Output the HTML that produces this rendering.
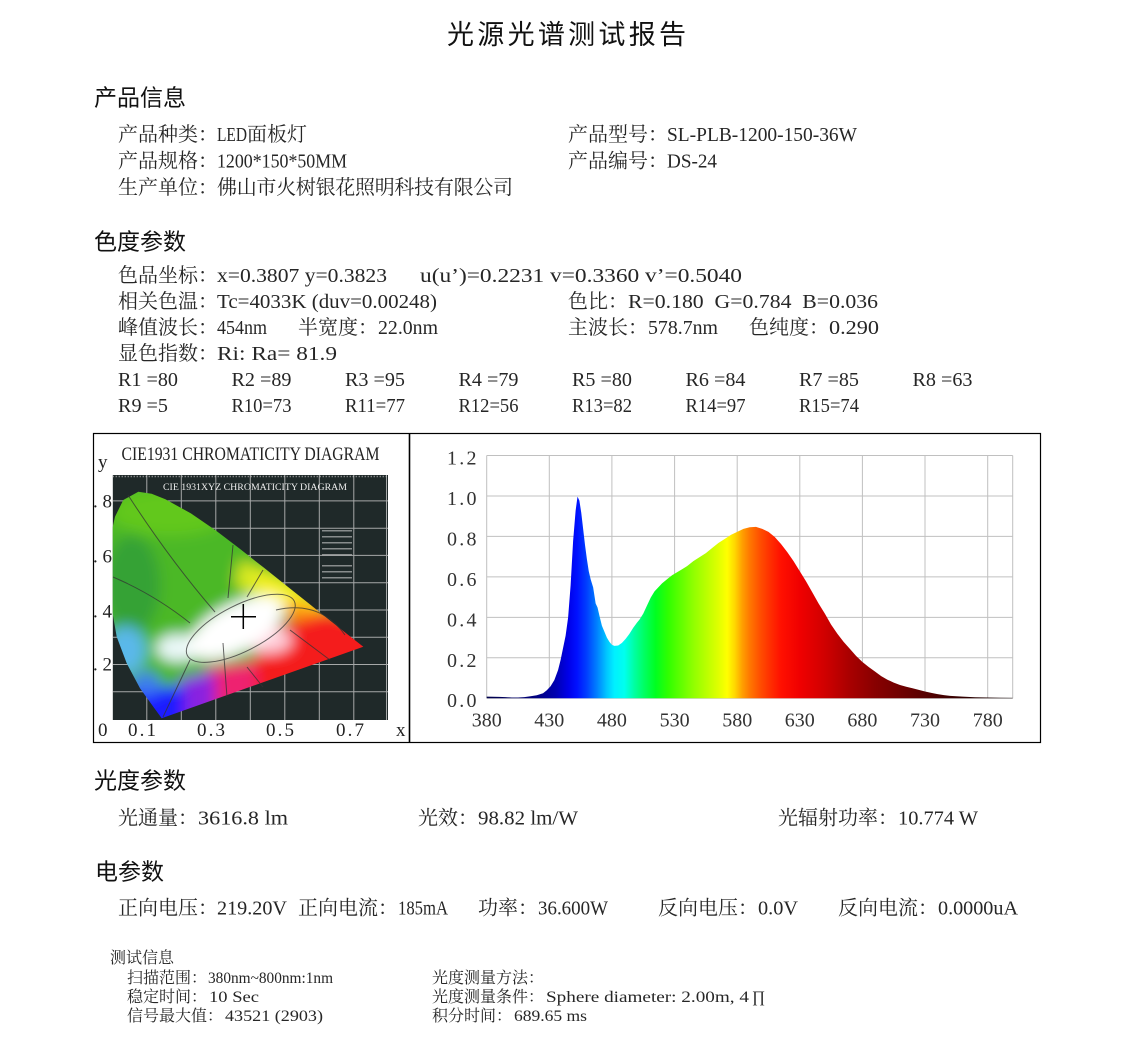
<!DOCTYPE html>
<html><head><meta charset="utf-8">
<style>
html,body{margin:0;padding:0;background:#fff;}
svg{display:block}
.h{font-family:"Liberation Sans","Noto Sans CJK SC",sans-serif;fill:#111}
.c{font-family:"Liberation Serif","Noto Serif CJK SC",serif;font-size:20px;fill:#262626}
.l{font-family:"Liberation Serif","Noto Serif CJK SC",serif;font-size:20px;fill:#262626;white-space:pre}
.cs{font-family:"Liberation Serif","Noto Serif CJK SC",serif;font-size:16px;fill:#262626}
.ls{font-family:"Liberation Serif","Noto Serif CJK SC",serif;font-size:16px;fill:#262626;white-space:pre}
.ax{font-family:"Liberation Serif",serif;font-size:20px;fill:#333;white-space:pre}
.ax2{font-family:"Liberation Serif",serif;font-size:19px;fill:#222;white-space:pre}
</style></head><body>
<svg width="1138" height="1047" viewBox="0 0 1138 1047" xmlns="http://www.w3.org/2000/svg">
<defs>
<clipPath id="pic"><rect x="112.7" y="475" width="275.3" height="245"/></clipPath>
<clipPath id="hs"><path d="M161.7,718.3 L153.3,706.7 L140,688.3 L126.7,663.3 L116.7,636.7 L112,610 L111,560 L112,530 L115,516.7 L123.3,500 L138.3,491.7 L151.6,493.8 L165.4,499.3 L190.9,513.4 L215.5,530.3 L239.8,548.8 L264,567.8 L287.3,586.4 L308.7,603.4 L326.3,617.5 L348.3,635 L363.3,646.7 Z"/></clipPath>
<filter id="bl" filterUnits="userSpaceOnUse" x="60" y="440" width="380" height="320"><feGaussianBlur stdDeviation="7"/></filter>
<linearGradient id="sp" gradientUnits="userSpaceOnUse" x1="380" y1="0" x2="800" y2="0">
<stop offset="0" stop-color="#00004a"/>
<stop offset="0.0952" stop-color="#000080"/>
<stop offset="0.131" stop-color="#0000b0"/>
<stop offset="0.1548" stop-color="#0000e8"/>
<stop offset="0.1714" stop-color="#0010ff"/>
<stop offset="0.1905" stop-color="#0040ff"/>
<stop offset="0.2095" stop-color="#0080ff"/>
<stop offset="0.2286" stop-color="#00c8ff"/>
<stop offset="0.2429" stop-color="#00f0ff"/>
<stop offset="0.2619" stop-color="#00ffee"/>
<stop offset="0.281" stop-color="#00ffa0"/>
<stop offset="0.3" stop-color="#00ff60"/>
<stop offset="0.3214" stop-color="#00ff20"/>
<stop offset="0.3452" stop-color="#30ff00"/>
<stop offset="0.369" stop-color="#60ff00"/>
<stop offset="0.3929" stop-color="#90ff00"/>
<stop offset="0.4167" stop-color="#b8ff00"/>
<stop offset="0.4405" stop-color="#e0ff00"/>
<stop offset="0.4571" stop-color="#ffff00"/>
<stop offset="0.4714" stop-color="#ffd800"/>
<stop offset="0.4857" stop-color="#ffa000"/>
<stop offset="0.5" stop-color="#ff7800"/>
<stop offset="0.519" stop-color="#ff5000"/>
<stop offset="0.5381" stop-color="#ff3000"/>
<stop offset="0.5595" stop-color="#ff1000"/>
<stop offset="0.5952" stop-color="#f00000"/>
<stop offset="0.6429" stop-color="#d00000"/>
<stop offset="0.6905" stop-color="#a80000"/>
<stop offset="0.738" stop-color="#880000"/>
<stop offset="0.7857" stop-color="#700000"/>
<stop offset="0.8333" stop-color="#580000"/>
<stop offset="0.881" stop-color="#3c0000"/>
<stop offset="0.9524" stop-color="#200000"/>
<stop offset="1" stop-color="#100000"/>
</linearGradient>
</defs>

<!-- Title -->
<text class="h" x="447" y="44" font-size="27" textLength="239">光源光谱测试报告</text>

<!-- Section headers -->
<text class="h" x="94" y="105.5" font-size="23" textLength="92">产品信息</text>
<text class="h" x="94" y="249.5" font-size="23" textLength="92">色度参数</text>
<text class="h" x="94" y="788.5" font-size="23" textLength="92">光度参数</text>
<text class="h" x="95" y="879.5" font-size="23" textLength="69">电参数</text>

<!-- Product info -->
<text class="c" x="118" y="141">产品种类：</text>
<text class="l" x="217" y="141" textLength="30" lengthAdjust="spacingAndGlyphs">LED</text>
<text class="c" x="247" y="141">面板灯</text>
<text class="c" x="568" y="141">产品型号：</text>
<text class="l" x="667" y="141" textLength="190" lengthAdjust="spacingAndGlyphs">SL-PLB-1200-150-36W</text>

<text class="c" x="118" y="167.3">产品规格：</text>
<text class="l" x="217" y="167.3" textLength="130" lengthAdjust="spacingAndGlyphs">1200*150*50MM</text>
<text class="c" x="568" y="167.3">产品编号：</text>
<text class="l" x="667" y="167.3" textLength="50" lengthAdjust="spacingAndGlyphs">DS-24</text>

<text class="c" x="118" y="194">生产单位：</text>
<text class="c" x="217" y="194" textLength="296">佛山市火树银花照明科技有限公司</text>

<!-- Chromaticity -->
<text class="c" x="118" y="282">色品坐标：</text>
<text class="l" x="217" y="282" textLength="170" lengthAdjust="spacingAndGlyphs">x=0.3807 y=0.3823</text>
<text class="l" x="420" y="282" textLength="322" lengthAdjust="spacingAndGlyphs">u(u’)=0.2231 v=0.3360 v’=0.5040</text>

<text class="c" x="118" y="308">相关色温：</text>
<text class="l" x="217" y="308" textLength="220" lengthAdjust="spacingAndGlyphs">Tc=4033K (duv=0.00248)</text>
<text class="c" x="568" y="308">色比：</text>
<text class="l" x="628" y="308" textLength="250" lengthAdjust="spacingAndGlyphs">R=0.180  G=0.784  B=0.036</text>

<text class="c" x="118" y="334">峰值波长：</text>
<text class="l" x="217" y="334" textLength="50" lengthAdjust="spacingAndGlyphs">454nm</text>
<text class="c" x="298" y="334">半宽度：</text>
<text class="l" x="378" y="334" textLength="60" lengthAdjust="spacingAndGlyphs">22.0nm</text>
<text class="c" x="568" y="334">主波长：</text>
<text class="l" x="648" y="334" textLength="70" lengthAdjust="spacingAndGlyphs">578.7nm</text>
<text class="c" x="749" y="334">色纯度：</text>
<text class="l" x="829" y="334" textLength="50" lengthAdjust="spacingAndGlyphs">0.290</text>

<text class="c" x="118" y="360">显色指数：</text>
<text class="l" x="217" y="360" textLength="120" lengthAdjust="spacingAndGlyphs">Ri: Ra= 81.9</text>

<text class="l" x="118" y="386" textLength="60" lengthAdjust="spacingAndGlyphs">R1 =80</text>
<text class="l" x="231.5" y="386" textLength="60" lengthAdjust="spacingAndGlyphs">R2 =89</text>
<text class="l" x="345" y="386" textLength="60" lengthAdjust="spacingAndGlyphs">R3 =95</text>
<text class="l" x="458.5" y="386" textLength="60" lengthAdjust="spacingAndGlyphs">R4 =79</text>
<text class="l" x="572" y="386" textLength="60" lengthAdjust="spacingAndGlyphs">R5 =80</text>
<text class="l" x="685.5" y="386" textLength="60" lengthAdjust="spacingAndGlyphs">R6 =84</text>
<text class="l" x="799" y="386" textLength="60" lengthAdjust="spacingAndGlyphs">R7 =85</text>
<text class="l" x="912.5" y="386" textLength="60" lengthAdjust="spacingAndGlyphs">R8 =63</text>

<text class="l" x="118" y="412" textLength="50" lengthAdjust="spacingAndGlyphs">R9 =5</text>
<text class="l" x="231.5" y="412" textLength="60" lengthAdjust="spacingAndGlyphs">R10=73</text>
<text class="l" x="345" y="412" textLength="60" lengthAdjust="spacingAndGlyphs">R11=77</text>
<text class="l" x="458.5" y="412" textLength="60" lengthAdjust="spacingAndGlyphs">R12=56</text>
<text class="l" x="572" y="412" textLength="60" lengthAdjust="spacingAndGlyphs">R13=82</text>
<text class="l" x="685.5" y="412" textLength="60" lengthAdjust="spacingAndGlyphs">R14=97</text>
<text class="l" x="799" y="412" textLength="60" lengthAdjust="spacingAndGlyphs">R15=74</text>

<!-- Chart box -->
<rect x="93.5" y="433.5" width="947" height="309" fill="none" stroke="#000" stroke-width="1.2"/>
<line x1="409.5" y1="433.5" x2="409.5" y2="742.5" stroke="#000" stroke-width="1.6"/>

<!-- CIE panel labels -->
<text class="ax2" x="121.5" y="460" font-size="17" textLength="258" lengthAdjust="spacingAndGlyphs">CIE1931 CHROMATICITY DIAGRAM</text>
<text class="ax2" x="98" y="468" font-size="18">y</text>
<text class="ax2" x="93" y="507.5" textLength="19">.8</text>
<text class="ax2" x="93" y="562.7" textLength="19">.6</text>
<text class="ax2" x="93" y="617.3" textLength="19">.4</text>
<text class="ax2" x="93" y="670.7" textLength="19">.2</text>
<text class="ax2" x="98" y="736">0</text>
<text class="ax2" x="128" y="736" textLength="28">0.1</text>
<text class="ax2" x="197" y="736" textLength="28">0.3</text>
<text class="ax2" x="266" y="736" textLength="28">0.5</text>
<text class="ax2" x="336" y="736" textLength="28">0.7</text>
<text class="ax2" x="396" y="736">x</text>

<!-- CIE picture -->
<g clip-path="url(#pic)">
<rect x="112.7" y="475" width="275.3" height="245" fill="#1f2929"/>
<line x1="112.7" y1="476.5" x2="388" y2="476.5" stroke="#aaa" stroke-width="1.5" stroke-dasharray="1,2"/>
<g stroke="#c8c8c8" stroke-width="1" opacity="0.8">
<line x1="146.8" y1="475" x2="146.8" y2="720"/>
<line x1="181.3" y1="475" x2="181.3" y2="720"/>
<line x1="215.8" y1="475" x2="215.8" y2="720"/>
<line x1="250.3" y1="475" x2="250.3" y2="720"/>
<line x1="284.8" y1="475" x2="284.8" y2="720"/>
<line x1="319.3" y1="475" x2="319.3" y2="720"/>
<line x1="353.8" y1="475" x2="353.8" y2="720"/>
<line x1="386.5" y1="475" x2="386.5" y2="720"/>
<line x1="112.7" y1="500.9" x2="388" y2="500.9"/>
<line x1="112.7" y1="528.2" x2="388" y2="528.2"/>
<line x1="112.7" y1="555.4" x2="388" y2="555.4"/>
<line x1="112.7" y1="582.7" x2="388" y2="582.7"/>
<line x1="112.7" y1="610" x2="388" y2="610"/>
<line x1="112.7" y1="637.2" x2="388" y2="637.2"/>
<line x1="112.7" y1="664.5" x2="388" y2="664.5"/>
<line x1="112.7" y1="691.7" x2="388" y2="691.7"/>
</g>
<text x="163" y="490" font-family="Liberation Serif,serif" font-size="9" fill="#eee" textLength="184" lengthAdjust="spacingAndGlyphs">CIE 1931XYZ CHROMATICITY DIAGRAM</text>
<g fill="#ccc" opacity="0.6">
<rect x="322" y="530" width="30" height="1.5"/><rect x="322" y="536" width="30" height="1.5"/>
<rect x="322" y="542" width="30" height="1.5"/><rect x="322" y="548" width="30" height="1.5"/>
<rect x="322" y="554" width="30" height="1.5"/><rect x="322" y="565" width="30" height="1.5"/>
<rect x="322" y="571" width="30" height="1.5"/><rect x="322" y="577" width="30" height="1.5"/>
</g>
<g clip-path="url(#hs)">
<g filter="url(#bl)">
<rect x="80" y="460" width="340" height="290" fill="#4cb828"/>
<ellipse cx="170" cy="512" rx="60" ry="24" fill="#62c81e"/>
<ellipse cx="132" cy="585" rx="28" ry="50" fill="#34a236"/>
<polygon points="240,560 290,580 320,605 300,615 260,600 235,585" fill="#d8ea24"/>
<polygon points="255,572 300,590 330,612 300,620 262,598" fill="#f8f020"/>
<polygon points="290,600 330,612 345,625 310,628 285,615" fill="#ff9a10"/>
<polygon points="280,625 330,612 430,640 430,760 240,760 250,665" fill="#f41a1a"/>
<polygon points="205,668 255,660 262,760 205,760" fill="#ee2070"/>
<polygon points="180,678 215,672 215,760 180,760" fill="#8a20e0"/>
<polygon points="100,690 185,686 185,760 100,760" fill="#1c1cff"/>
<ellipse cx="126" cy="650" rx="20" ry="24" fill="#5ab8ea"/>
<ellipse cx="146" cy="684" rx="14" ry="12" fill="#3c7cf0"/>
<ellipse cx="178" cy="648" rx="22" ry="14" fill="#eaf8f8"/>
<ellipse cx="268" cy="640" rx="24" ry="13" fill="#ffd0dc"/>
<ellipse cx="236" cy="628" rx="52" ry="24" transform="rotate(-27 236 628)" fill="#ffffff"/>
</g>
</g>
<g fill="none" stroke="#333" stroke-width="1" opacity="0.75">
<ellipse cx="240.8" cy="628.3" rx="60" ry="23" transform="rotate(-27 240.8 628.3)"/>
<path d="M128,495 Q170,560 215,612"/>
<path d="M113,577 Q155,595 190,623"/>
<path d="M233,545 L228,598"/>
<path d="M263,570 L247,597"/>
<path d="M223,643 L227,697"/>
<path d="M190,660 L163,717"/>
<path d="M247,667 L263,687"/>
<path d="M290,630 L330,660"/>
<path d="M276,610 Q320,600 345,635"/>
</g>
<path d="M231,616.7 H256 M243.3,604 V629" stroke="#000" stroke-width="1.5"/>
</g>

<!-- Spectrum grid -->
<g stroke="#c0c0c0" stroke-width="1">
<line x1="486.7" y1="455.5" x2="1012.7" y2="455.5"/>
<line x1="486.7" y1="496" x2="1012.7" y2="496"/>
<line x1="486.7" y1="536.4" x2="1012.7" y2="536.4"/>
<line x1="486.7" y1="576.9" x2="1012.7" y2="576.9"/>
<line x1="486.7" y1="617.4" x2="1012.7" y2="617.4"/>
<line x1="486.7" y1="657.8" x2="1012.7" y2="657.8"/>
<line x1="486.7" y1="698.3" x2="1012.7" y2="698.3"/>
<line x1="486.7" y1="455.5" x2="486.7" y2="698.3"/>
<line x1="549.3" y1="455.5" x2="549.3" y2="698.3"/>
<line x1="611.9" y1="455.5" x2="611.9" y2="698.3"/>
<line x1="674.6" y1="455.5" x2="674.6" y2="698.3"/>
<line x1="737.2" y1="455.5" x2="737.2" y2="698.3"/>
<line x1="799.8" y1="455.5" x2="799.8" y2="698.3"/>
<line x1="862.4" y1="455.5" x2="862.4" y2="698.3"/>
<line x1="925" y1="455.5" x2="925" y2="698.3"/>
<line x1="987.7" y1="455.5" x2="987.7" y2="698.3"/>
<line x1="1012.7" y1="455.5" x2="1012.7" y2="698.3"/>
</g>

<!-- Spectrum -->
<g transform="translate(486.7,698.3) scale(1.2524,-201.7) translate(-380,0)">
<polygon fill="url(#sp)" points="380,0 380,0.008 390,0.007 395,0.006 400,0.004 405,0.004 410,0.006 415,0.01 420,0.015 425,0.025 428,0.04 431,0.06 434,0.09 437,0.14 439,0.19 441,0.25 443,0.31 445,0.4 447,0.56 449,0.78 451,0.93 452.5,1.0 454,0.98 455.5,0.92 457,0.84 458.5,0.76 460,0.69 461.5,0.63 463,0.59 465,0.55 467,0.47 468.5,0.45 470,0.41 472,0.36 474,0.33 476,0.3 478,0.28 480,0.265 482,0.26 485,0.262 488,0.275 491,0.295 494,0.32 497,0.35 500,0.375 502,0.39 505,0.42 508,0.46 511,0.5 514,0.53 517,0.55 520,0.57 524,0.59 528,0.61 532,0.625 536,0.64 540,0.655 545,0.68 550,0.7 555,0.72 560,0.745 565,0.77 570,0.79 575,0.81 580,0.825 585,0.84 590,0.848 595,0.85 600,0.84 605,0.825 610,0.8 615,0.765 620,0.725 625,0.68 630,0.63 635,0.58 640,0.525 645,0.47 650,0.42 655,0.365 660,0.32 665,0.28 670,0.245 675,0.21 680,0.18 685,0.155 690,0.133 695,0.11 700,0.092 705,0.078 710,0.066 715,0.057 720,0.05 725,0.042 730,0.034 735,0.027 740,0.021 745,0.016 750,0.012 760,0.008 770,0.005 780,0.004 790,0.003 800,0.002 800,0"/>
</g>

<!-- Spectrum axis labels -->
<text class="ax" x="447" y="464.5" textLength="29.5">1.2</text>
<text class="ax" x="447" y="505" textLength="29.5">1.0</text>
<text class="ax" x="447" y="545.4" textLength="29.5">0.8</text>
<text class="ax" x="447" y="585.9" textLength="29.5">0.6</text>
<text class="ax" x="447" y="626.4" textLength="29.5">0.4</text>
<text class="ax" x="447" y="666.8" textLength="29.5">0.2</text>
<text class="ax" x="447" y="707" textLength="29.5">0.0</text>
<g text-anchor="middle">
<text class="ax" x="486.7" y="726.5">380</text>
<text class="ax" x="549.3" y="726.5">430</text>
<text class="ax" x="611.9" y="726.5">480</text>
<text class="ax" x="674.6" y="726.5">530</text>
<text class="ax" x="737.2" y="726.5">580</text>
<text class="ax" x="799.8" y="726.5">630</text>
<text class="ax" x="862.4" y="726.5">680</text>
<text class="ax" x="925" y="726.5">730</text>
<text class="ax" x="987.7" y="726.5">780</text>
</g>

<!-- Photometric -->
<text class="c" x="118" y="824.5">光通量：</text>
<text class="l" x="198" y="824.5" textLength="90" lengthAdjust="spacingAndGlyphs">3616.8 lm</text>
<text class="c" x="418" y="824.5">光效：</text>
<text class="l" x="478" y="824.5" textLength="100" lengthAdjust="spacingAndGlyphs">98.82 lm/W</text>
<text class="c" x="778" y="824.5">光辐射功率：</text>
<text class="l" x="898" y="824.5" textLength="80" lengthAdjust="spacingAndGlyphs">10.774 W</text>

<!-- Electrical -->
<text class="c" x="118" y="914.5">正向电压：</text>
<text class="l" x="217" y="914.5" textLength="70" lengthAdjust="spacingAndGlyphs">219.20V</text>
<text class="c" x="298" y="914.5">正向电流：</text>
<text class="l" x="398" y="914.5" textLength="50" lengthAdjust="spacingAndGlyphs">185mA</text>
<text class="c" x="478" y="914.5">功率：</text>
<text class="l" x="538" y="914.5" textLength="70" lengthAdjust="spacingAndGlyphs">36.600W</text>
<text class="c" x="658" y="914.5">反向电压：</text>
<text class="l" x="758" y="914.5" textLength="40" lengthAdjust="spacingAndGlyphs">0.0V</text>
<text class="c" x="838" y="914.5">反向电流：</text>
<text class="l" x="938" y="914.5" textLength="80" lengthAdjust="spacingAndGlyphs">0.0000uA</text>

<!-- Test info -->
<text class="cs" x="110" y="963">测试信息</text>
<text class="cs" x="127" y="983">扫描范围：</text>
<text class="ls" x="208" y="983" textLength="125" lengthAdjust="spacingAndGlyphs">380nm~800nm:1nm</text>
<text class="cs" x="127" y="1002">稳定时间：</text>
<text class="ls" x="209" y="1002" textLength="50" lengthAdjust="spacingAndGlyphs">10 Sec</text>
<text class="cs" x="127" y="1021">信号最大值：</text>
<text class="ls" x="225" y="1021" textLength="98" lengthAdjust="spacingAndGlyphs">43521 (2903)</text>
<text class="cs" x="432" y="983">光度测量方法：</text>
<text class="cs" x="432" y="1002">光度测量条件：</text>
<text class="ls" x="546" y="1002" textLength="203" lengthAdjust="spacingAndGlyphs">Sphere diameter: 2.00m, 4</text>
<text class="ls" x="752" y="1002">∏</text>
<text class="cs" x="432" y="1021">积分时间：</text>
<text class="ls" x="514" y="1021" textLength="73" lengthAdjust="spacingAndGlyphs">689.65 ms</text>
</svg>
</body></html>
